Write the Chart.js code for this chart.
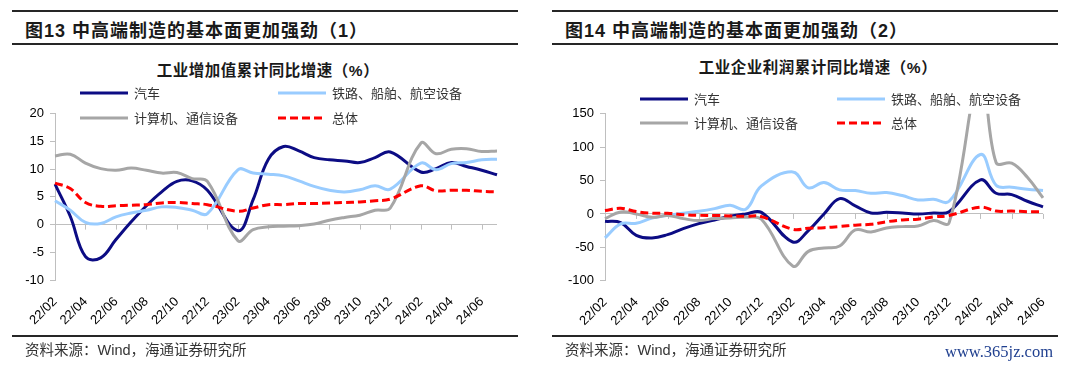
<!DOCTYPE html>
<html>
<head>
<meta charset="utf-8">
<script src="https://cdn.jsdelivr.net/npm/chart.js@4.4.1/dist/chart.umd.min.js"></script>
<style>
  body { margin: 0; background: #fff; }
  #page { position: relative; width: 1080px; height: 369px; overflow: hidden; background: #fff;
          font-family: "Liberation Sans", "Noto Sans CJK SC", sans-serif; }
  .rule { position: absolute; height: 2px; background: #262626; }
  .ptitle { position: absolute; font-size: 18px; font-weight: bold; color: #1a1a1a; white-space: nowrap; line-height: 18px; letter-spacing: 1px; }
  .ctitle { position: absolute; font-size: 15.5px; font-weight: bold; color: #1a1a1a; white-space: nowrap; line-height: 16px; letter-spacing: 0.5px; transform: translateX(-50%); }
  .src { position: absolute; font-size: 14.5px; color: #333; white-space: nowrap; line-height: 15px; }
  .mark { position: absolute; font-family: "Liberation Serif", serif; font-size: 16.5px; color: #1f3f8f; line-height: 16px; }
  canvas { position: absolute; }
  .lg { position: absolute; display: flex; align-items: center; font-size: 13px; color: #333; white-space: nowrap;
        line-height: 13px; transform: translateY(-50%); z-index: 2; }
  .lg i { display: inline-block; width: 48px; height: 3px; margin-right: 6px; }
</style>
</head>
<body>
<div id="page">
  <div class="rule" style="left:12px; top:10px; width:506px;"></div>
  <div class="rule" style="left:12px; top:43px; width:506px;"></div>
  <div class="rule" style="left:552px; top:10px; width:506px;"></div>
  <div class="rule" style="left:552px; top:43px; width:506px;"></div>
  <div class="ptitle" style="left:25px; top:22px;">图13 中高端制造的基本面更加强劲（1）</div>
  <div class="ptitle" style="left:565px; top:22px;">图14 中高端制造的基本面更加强劲（2）</div>
  <div class="ctitle" style="left:268px; top:63px;">工业增加值累计同比增速（%）</div>
  <div class="ctitle" style="left:818px; top:60px;">工业企业利润累计同比增速（%）</div>

  <canvas id="chartLeft" width="540" height="245" style="left:0; top:100px;"></canvas>
  <canvas id="chartRight" width="540" height="245" style="left:540px; top:100px;"></canvas>

  <div class="rule" style="left:12px; top:335px; width:506px;"></div>
  <div class="rule" style="left:552px; top:335px; width:506px;"></div>
  <div class="src" style="left:25px; top:343px;">资料来源：Wind，海通证券研究所</div>
  <div class="src" style="left:565px; top:343px;">资料来源：Wind，海通证券研究所</div>
  <div class="mark" style="left:945px; top:344px;">www.365jz.com</div>
</div>

<script>
// 工业增加值：22/02 - 24/07（1 月无数据）
const monthsLeft = [
  '22/02', '22/03', '22/04', '22/05', '22/06', '22/07', '22/08', '22/09', '22/10', '22/11', '22/12',
  '23/01', '23/02', '23/03', '23/04', '23/05', '23/06', '23/07', '23/08', '23/09', '23/10', '23/11', '23/12',
  '24/01', '24/02', '24/03', '24/04', '24/05', '24/06', '24/07',
];
const autoVA = [7.3, 1.5, -5.8, -6.0, -2.7, 0.5, 3.4, 5.9, 7.8, 7.9, 6.2, null, -1.1, 4.5, 11.8, 14.1, 13.3, 12.1, 11.7, 11.5, 11.2, 12.1, 13.1, null, 9.5, 10.1, 11.2, 10.5, 9.8, 9.0];
const railVA = [4.3, 2.6, 0.4, 0.2, 1.4, 2.1, 2.6, 3.2, 3.1, 2.6, 2.0, null, 9.9, 9.3, 9.1, 8.8, 7.9, 6.9, 6.2, 5.9, 6.3, 7.0, 6.4, null, 11.1, 9.9, 11.0, 11.2, 11.7, 11.8];
const compVA = [12.4, 12.7, 11.1, 10.1, 9.8, 10.2, 9.8, 9.3, 9.4, 8.3, 7.8, null, -2.9, -0.9, -0.4, -0.3, -0.2, 0.1, 0.8, 1.3, 1.7, 2.6, 3.0, null, 14.7, 12.8, 13.6, 13.7, 13.2, 13.3];
const totalVA = [7.5, 6.5, 4.0, 3.3, 3.4, 3.5, 3.6, 3.9, 4.0, 3.8, 3.6, null, 2.4, 3.0, 3.6, 3.6, 3.8, 3.8, 3.9, 4.0, 4.1, 4.3, 4.6, null, 7.0, 6.1, 6.2, 6.2, 6.0, 5.9];

// 工业企业利润：22/02 - 24/06
const monthsRight = monthsLeft.slice(0, 29);
const autoProfit = [-11, -13, -32, -36, -31, -22, -14.5, -9, -3.4, 0, 2.4, null, -42, -25, 0, 23, 12, 1.5, 2.4, 1.5, 0, 1.5, 3.4, null, 51, 31, 29, 19, 10.6];
const railProfit = [-36, -15, -14, -6, -2, 1, 4, 8, 13, 7, 42, null, 63, 39, 47, 36, 35, 31, 32, 27.5, 21, 22, 19, null, 89, 43, 40, 37, 35];
const compProfit = [-7, 3, 0, -5, -2.4, -7, -10, -7, -6, -5, -8, null, -78, -56, -51, -48, -24, -27, -21, -19, -18, -10, -13, null, 210.8, 77, 76, 55, 24];
const totalProfit = [5.0, 8.5, 3.5, 1.0, 1.0, -1.1, -2.1, -2.3, -3.0, -3.6, -4.0, null, -22.9, -21.4, -20.6, -18.8, -16.8, -15.5, -11.7, -9.0, -7.8, -4.4, -2.3, null, 10.2, 4.3, 4.3, 3.4, 3.5];

const seriesNames = ['汽车', '铁路、船舶、航空设备', '计算机、通信设备', '总体'];

const STYLES = [
  { color: '#0c0c84', dash: [] },
  { color: '#99ccff', dash: [] },
  { color: '#a6a6a6', dash: [] },
  { color: '#ff0000', dash: [8, 4] },
];
const AXIS_GRAY = '#bfbfbf';

// small tick marks on the zero line, one every two months
const zeroTicks = {
  id: 'zeroTicks',
  beforeDatasetsDraw(chart) {
    const { ctx, scales: { x, y } } = chart;
    const y0 = y.getPixelForValue(0);
    ctx.save();
    ctx.strokeStyle = AXIS_GRAY;
    ctx.lineWidth = 1;
    for (let i = 2; i < chart.data.labels.length; i += 2) {
      const px = Math.round(x.getPixelForValue(i)) + 0.5;
      ctx.beginPath();
      ctx.moveTo(px, y0);
      ctx.lineTo(px, y0 + 5);
      ctx.stroke();
    }
    ctx.restore();
  },
};

function makeChart(id, labels, series, yMin, yMax, step, area) {
  const canvas = document.getElementById(id);
  const W = canvas.width, H = canvas.height;
  return new Chart(canvas, {
    type: 'line',
    data: {
      labels,
      datasets: series.map((data, i) => ({
        label: seriesNames[i],
        data,
        borderColor: STYLES[i].color,
        borderDash: STYLES[i].dash,
        borderWidth: 3,
        pointRadius: 0,
        tension: 0.4,
        spanGaps: true,
        fill: false,
        order: 4 - i,
      })),
    },
    options: {
      responsive: false,
      devicePixelRatio: 1,
      animation: false,
      layout: { padding: { left: 0, top: area.top, right: W - area.right, bottom: 0 } },
      plugins: { legend: { display: false }, tooltip: { enabled: false } },
      scales: {
        x: {
          type: 'category',
          offset: false,
          grid: { display: false, drawTicks: false },
          border: { display: false },
          ticks: {
            autoSkip: false,
            maxRotation: 45,
            minRotation: 45,
            padding: 14,
            color: '#000',
            font: { family: 'Liberation Sans', size: 13 },
            callback: (v, i) => (i % 2 === 0 ? labels[i] : ''),
          },
          afterFit: (s) => { s.height = H - area.bottom; },
        },
        y: {
          min: yMin,
          max: yMax,
          grid: {
            color: (c) => (c.tick && c.tick.value === 0 ? AXIS_GRAY : 'rgba(0,0,0,0)'),
            tickColor: AXIS_GRAY,
            tickLength: 5,
          },
          border: { display: true, color: AXIS_GRAY, width: 1 },
          ticks: {
            stepSize: step,
            padding: 6,
            color: '#000',
            font: { family: 'Liberation Sans', size: 13 },
          },
          afterFit: (s) => { s.width = area.left; },
        },
      },
    },
    plugins: [zeroTicks],
  });
}

makeChart('chartLeft', monthsLeft, [autoVA, railVA, compVA, totalVA], -10, 20, 5,
  { left: 55, right: 497, top: 8.3, bottom: 180 });
makeChart('chartRight', monthsRight, [autoProfit, railProfit, compProfit, totalProfit], -100, 150, 50,
  { left: 65, right: 503, top: 8.3, bottom: 180.7 });

// legends: two columns, two rows, drawn from the series names
function addLegend(cols, rows) {
  const page = document.getElementById('page');
  const order = [[0, 0], [0, 1], [1, 0], [1, 1]]; // [row, col] per series
  seriesNames.forEach((name, i) => {
    const [r, c] = order[i];
    const el = document.createElement('div');
    el.className = 'lg';
    el.style.left = cols[c] + 'px';
    el.style.top = rows[r] + 'px';
    const sw = document.createElement('i');
    const st = STYLES[i];
    sw.style.background = st.dash.length
      ? `repeating-linear-gradient(to right, ${st.color} 0 ${st.dash[0]}px, transparent ${st.dash[0]}px ${st.dash[0] + st.dash[1]}px)`
      : st.color;
    el.appendChild(sw);
    el.appendChild(document.createTextNode(name));
    page.appendChild(el);
  });
}
addLegend([80, 278], [93, 118]);
addLegend([640, 837], [99, 123]);
</script>
</body>
</html>
